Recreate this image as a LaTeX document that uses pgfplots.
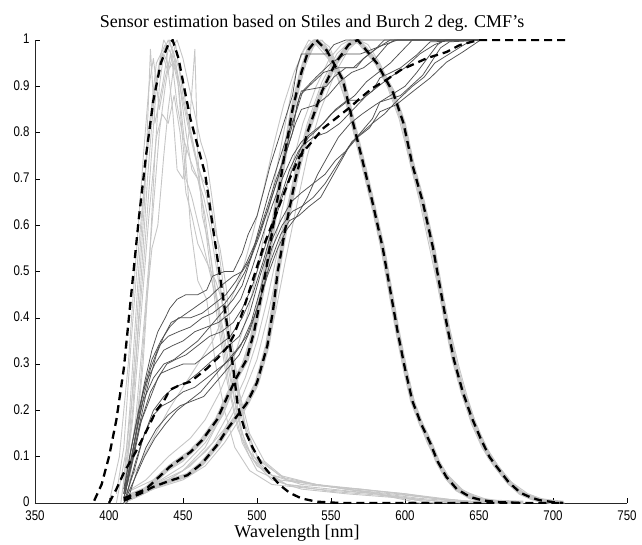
\documentclass[border=0pt]{standalone}
\usepackage{fontspec}
\setmainfont{Liberation Serif}
\newfontfamily\tickfont[FakeStretch=0.82]{Liberation Sans}
\usepackage{pgfplots}
\pgfplotsset{compat=1.18}
\definecolor{lgray}{RGB}{198,198,198}
\definecolor{dgray}{RGB}{80,80,80}
\begin{document}
\begin{tikzpicture}
\useasboundingbox (-35pt,-41pt) rectangle (607pt,503pt);
\begin{axis}[
  scale only axis, width=592pt, height=463pt,
  at={(0,0)}, anchor=south west,
  xmin=350, xmax=750, ymin=0, ymax=1,
  axis x line*=bottom, axis y line*=left,
  xtick={350,400,450,500,550,600,650,700,750},
  ytick={0,0.1,0.2,0.3,0.4,0.5,0.6,0.7,0.8,0.9,1},
  yticklabels={0,0.1,0.2,0.3,0.4,0.5,0.6,0.7,0.8,0.9,1},
  xticklabels={350,400,450,500,550,600,650,700,750},
  tick align=inside, major tick length=5pt,
  tick style={black, line width=0.5pt},
  axis line style={black!85, line width=0.6pt},
  ticklabel style={font=\tickfont\fontsize{14}{14}\selectfont},
  xticklabel style={yshift=-4pt},
  yticklabel style={xshift=-2pt, yshift=1pt},
  /pgf/number format/assume math mode=true,
  lg/.style={lgray, line width=0.9pt, line join=round},
  band/.style={lgray, line width=4.5pt, line join=round},
  dg/.style={dgray, line width=0.75pt, line join=round},
  dsh/.style={black, line width=2.3pt, dash pattern=on 8pt off 5pt},
]
% ---- gray bands under M and L
\addplot[band] coordinates {(410,0.01) (425,0.03) (441,0.078) (455,0.11) (463,0.136) (473,0.18) (480,0.23) (486,0.27) (493,0.31) (498,0.37) (503,0.45) (507,0.52) (512,0.62) (518,0.74) (524,0.85) (530,0.93) (535,0.98) (540,1.0) (547,0.978) (558,0.914) (565,0.82) (572,0.73) (578,0.65) (585,0.55) (590,0.46) (595,0.37) (600,0.29) (605,0.22) (611,0.17) (617,0.13) (622,0.09) (628,0.056) (635,0.03) (644,0.013) (652,0.006) (662,0.002) (680,0)};
\addplot[band] coordinates {(410,0.005) (421,0.02) (430,0.035) (441,0.048) (453,0.06) (463,0.086) (473,0.125) (480,0.16) (487,0.19) (493,0.215) (500,0.26) (507,0.34) (511,0.42) (514,0.5) (519,0.59) (526,0.7) (534,0.8) (544,0.89) (553,0.95) (562,0.99) (568,1.0) (572,0.985) (581,0.95) (592,0.886) (599,0.82) (605,0.73) (612,0.65) (619,0.55) (624,0.46) (628,0.39) (633,0.31) (639,0.24) (645,0.185) (651,0.14) (657,0.1) (662,0.078) (670,0.045) (678,0.022) (685,0.012) (691,0.006) (700,0.002) (707,0)};
% ---- light gray: S estimates
\addplot[lg] coordinates {(405,0) (412,0.12) (418,0.3) (423,0.5) (428,0.72) (432,0.9) (436,0.97) (440,0.93) (445,0.99) (450,0.88) (455,0.8) (460,0.73) (466,0.66) (472,0.55) (478,0.4) (484,0.26) (490,0.15) (498,0.09) (510,0.05) (530,0.03) (560,0.02) (600,0.01) (640,0)};
\addplot[lg] coordinates {(408,0) (414,0.15) (419,0.4) (424,0.65) (428,0.98) (431,0.82) (436,0.9) (441,1.0) (446,0.93) (452,0.7) (456,0.66) (462,0.58) (468,0.5) (474,0.42) (480,0.3) (486,0.2) (493,0.12) (505,0.07) (520,0.04) (550,0.025) (590,0.015) (620,0)};
\addplot[lg] coordinates {(410,0.02) (416,0.2) (421,0.45) (426,0.7) (431,0.9) (437,1.0) (442,0.97) (447,0.9) (451,0.78) (455,0.6) (460,0.48) (466,0.44) (472,0.3) (478,0.2) (485,0.12) (495,0.07) (510,0.04) (540,0.03) (580,0.02) (610,0)};
\addplot[lg] coordinates {(410,0.05) (414,0.2) (420,0.5) (426,0.78) (432,0.95) (438,0.99) (443,0.85) (446,0.72) (450,0.7) (454,0.8) (458,0.98) (460,0.75) (463,0.62) (468,0.55) (472,0.46) (478,0.36) (484,0.24) (490,0.14) (500,0.08) (515,0.05) (550,0.035) (600,0.02) (640,0)};
\addplot[lg] coordinates {(405,0.02) (410,0.12) (415,0.35) (420,0.55) (425,0.73) (430,0.88) (435,0.96) (440,1.0) (444,0.97) (448,0.9) (453,0.82) (458,0.75) (463,0.7) (467,0.68) (471,0.6) (475,0.55) (479,0.47) (483,0.35) (488,0.24) (495,0.15) (505,0.09) (520,0.05) (560,0.03) (610,0.01) (650,0)};
\addplot[lg] coordinates {(410,0.03) (416,0.18) (422,0.42) (427,0.62) (432,0.79) (436,0.84) (440,0.82) (444,0.88) (448,0.8) (452,0.67) (456,0.62) (460,0.56) (466,0.52) (472,0.48) (476,0.44) (480,0.38) (486,0.27) (492,0.17) (500,0.1) (515,0.06) (540,0.04) (580,0.02) (620,0)};
\addplot[lg] coordinates {(410,0.02) (417,0.1) (423,0.3) (427,0.5) (431,0.75) (434,0.9) (437,0.97) (441,0.94) (445,0.96) (449,0.92) (453,0.84) (458,0.76) (463,0.65) (468,0.52) (474,0.38) (480,0.26) (487,0.16) (495,0.1) (510,0.06) (530,0.04) (570,0.03) (620,0.01) (660,0)};
\addplot[lg] coordinates {(410,0.0) (418,0.18) (424,0.4) (429,0.6) (434,0.8) (438,0.9) (442,0.98) (446,1.0) (450,0.96) (454,0.9) (458,0.84) (462,0.78) (466,0.74) (470,0.65) (474,0.55) (478,0.45) (482,0.35) (487,0.24) (493,0.15) (502,0.09) (520,0.05) (560,0.03) (620,0.01) (660,0)};
\addplot[lg] coordinates {(412,0.0) (417,0.12) (421,0.25) (425,0.42) (429,0.55) (433,0.6) (437,0.75) (440,0.85) (444,0.95) (448,0.9) (452,0.8) (456,0.72) (460,0.7) (464,0.66) (468,0.6) (473,0.5) (478,0.4) (483,0.3) (490,0.18) (498,0.1) (510,0.06) (540,0.04) (600,0.02) (650,0)};
\addplot[lg] coordinates {(400,0.0) (407,0.1) (413,0.3) (418,0.52) (423,0.74) (427,0.9) (430,0.96) (434,0.85) (438,0.92) (442,0.97) (446,0.86) (450,0.79) (455,0.74) (460,0.7) (465,0.62) (470,0.5) (476,0.36) (482,0.24) (490,0.13) (500,0.07) (520,0.04) (580,0.02) (630,0)};
% ---- light gray: M estimates
\addplot[lg] coordinates {(410,0.02) (425,0.05) (440,0.1) (455,0.14) (465,0.18) (475,0.24) (485,0.32) (493,0.4) (500,0.5) (506,0.6) (512,0.7) (518,0.8) (524,0.9) (530,0.97) (535,1.0) (540,0.99) (548,0.96) (556,0.91) (563,0.83) (570,0.74) (577,0.65) (584,0.55) (590,0.45) (596,0.35) (602,0.26) (608,0.19) (615,0.13) (622,0.085) (630,0.05) (640,0.02) (655,0.005) (670,0)};
\addplot[lg] coordinates {(410,0.01) (430,0.03) (450,0.07) (465,0.12) (478,0.2) (488,0.28) (496,0.36) (502,0.45) (508,0.55) (514,0.66) (520,0.77) (527,0.88) (533,0.95) (539,0.99) (544,1.0) (550,0.97) (558,0.91) (566,0.82) (573,0.72) (580,0.62) (586,0.52) (592,0.42) (598,0.33) (604,0.24) (610,0.18) (617,0.12) (625,0.07) (635,0.035) (648,0.012) (665,0)};
\addplot[lg] coordinates {(410,0.03) (420,0.08) (430,0.14) (440,0.2) (450,0.25) (460,0.3) (470,0.35) (480,0.42) (490,0.5) (497,0.58) (504,0.67) (511,0.77) (518,0.86) (525,0.93) (532,0.98) (538,1.0) (545,0.98) (553,0.93) (561,0.86) (568,0.77) (575,0.68) (582,0.58) (588,0.48) (594,0.39) (600,0.3) (606,0.22) (613,0.15) (620,0.1) (628,0.06) (638,0.03) (650,0.01) (665,0)};
\addplot[lg] coordinates {(410,0.0) (430,0.04) (450,0.08) (465,0.13) (477,0.19) (487,0.27) (495,0.35) (502,0.46) (508,0.57) (514,0.68) (520,0.78) (526,0.87) (532,0.94) (538,0.985) (543,1.0) (549,0.985) (556,0.93) (563,0.85) (570,0.76) (577,0.67) (583,0.57) (589,0.47) (595,0.38) (601,0.29) (607,0.21) (614,0.15) (621,0.1) (629,0.06) (640,0.025) (655,0.008) (670,0)};
% ---- light gray: L estimates
\addplot[lg] coordinates {(410,0.01) (430,0.04) (450,0.07) (465,0.11) (478,0.16) (490,0.23) (500,0.31) (507,0.4) (513,0.49) (519,0.58) (526,0.68) (534,0.79) (543,0.88) (552,0.94) (560,0.98) (566,1.0) (572,0.98) (580,0.95) (590,0.89) (597,0.83) (604,0.75) (611,0.66) (617,0.57) (623,0.48) (628,0.4) (634,0.31) (640,0.24) (646,0.18) (653,0.13) (660,0.09) (668,0.055) (678,0.025) (690,0.008) (705,0)};
\addplot[lg] coordinates {(410,0.02) (430,0.05) (450,0.09) (465,0.14) (478,0.21) (488,0.28) (497,0.36) (504,0.45) (510,0.54) (516,0.62) (523,0.72) (531,0.82) (540,0.9) (549,0.96) (557,0.99) (563,1.0) (570,0.99) (578,0.96) (588,0.9) (596,0.83) (603,0.74) (610,0.65) (616,0.56) (622,0.47) (627,0.39) (633,0.3) (639,0.23) (645,0.17) (652,0.12) (660,0.08) (670,0.04) (682,0.015) (695,0.004) (705,0)};
\addplot[lg] coordinates {(410,0.0) (430,0.03) (450,0.05) (465,0.08) (478,0.13) (490,0.19) (500,0.25) (507,0.33) (513,0.42) (519,0.52) (526,0.63) (534,0.75) (543,0.85) (553,0.93) (562,0.98) (569,1.0) (575,0.99) (583,0.95) (593,0.88) (600,0.81) (607,0.72) (613,0.63) (620,0.54) (625,0.46) (630,0.38) (636,0.3) (642,0.23) (648,0.17) (655,0.12) (663,0.08) (672,0.045) (683,0.02) (695,0.006) (708,0)};
\addplot[lg] coordinates {(410,0.0) (435,0.04) (455,0.08) (470,0.13) (482,0.2) (492,0.27) (500,0.35) (507,0.44) (513,0.53) (519,0.62) (526,0.72) (534,0.82) (544,0.91) (554,0.97) (562,0.995) (567,1.0) (574,0.985) (582,0.95) (591,0.89) (598,0.82) (605,0.74) (612,0.65) (618,0.56) (624,0.47) (629,0.39) (635,0.3) (641,0.23) (647,0.17) (654,0.12) (662,0.08) (671,0.045) (682,0.018) (694,0.005) (706,0)};
% ---- dark gray step curves
\addplot[dg] coordinates {(410,0.02) (414,0.1) (419,0.18) (424,0.26) (429,0.33) (433,0.37) (438,0.4) (441,0.42) (446,0.44) (452,0.45) (460,0.45) (466,0.46) (470,0.49) (478,0.5) (484,0.5) (490,0.54) (494,0.58) (500,0.62) (505,0.68) (509,0.73) (514,0.78) (519,0.83) (524,0.88) (527,0.94) (530,0.97) (547,0.97) (552,0.99) (560,1.0) (655,1.0)};
\addplot[dg] coordinates {(410,0.01) (415,0.08) (420,0.16) (426,0.25) (432,0.32) (437,0.36) (442,0.39) (448,0.4) (457,0.42) (468,0.445) (476,0.47) (484,0.49) (490,0.5) (496,0.53) (502,0.58) (507,0.63) (512,0.68) (518,0.74) (524,0.8) (527,0.86) (530,0.89) (547,0.9) (552,0.92) (560,0.94) (567,0.94) (572,0.96) (580,0.98) (590,1.0) (655,1.0)};
\addplot[dg] coordinates {(411,0.02) (416,0.1) (421,0.17) (427,0.22) (433,0.27) (439,0.3) (445,0.31) (452,0.32) (460,0.34) (468,0.36) (476,0.37) (484,0.39) (490,0.42) (497,0.47) (504,0.54) (510,0.6) (516,0.66) (522,0.72) (528,0.76) (535,0.79) (542,0.81) (550,0.84) (558,0.86) (566,0.88) (574,0.91) (582,0.93) (590,0.95) (599,0.98) (605,1.0) (655,1.0)};
\addplot[dg] coordinates {(411,0.01) (417,0.07) (423,0.14) (430,0.2) (437,0.23) (444,0.25) (452,0.26) (460,0.28) (467,0.3) (474,0.32) (481,0.34) (488,0.36) (495,0.41) (502,0.49) (509,0.56) (516,0.61) (523,0.65) (530,0.67) (538,0.69) (546,0.71) (553,0.74) (560,0.76) (568,0.79) (576,0.81) (583,0.845) (594,0.86) (605,0.888) (617,0.918) (628,0.952) (639,0.974) (651,1.0) (655,1.0)};
\addplot[dg] coordinates {(410,0.03) (415,0.12) (420,0.2) (425,0.26) (431,0.3) (437,0.33) (443,0.34) (450,0.35) (458,0.37) (466,0.38) (474,0.39) (482,0.41) (489,0.44) (496,0.5) (503,0.57) (510,0.64) (517,0.7) (524,0.75) (530,0.78) (537,0.8) (545,0.82) (553,0.85) (561,0.87) (570,0.87) (578,0.89) (583,0.918) (597,0.94) (608,0.968) (617,0.996) (655,1.0)};
\addplot[dg] coordinates {(412,0.02) (418,0.09) (424,0.15) (430,0.19) (436,0.21) (442,0.22) (450,0.24) (458,0.25) (466,0.27) (474,0.29) (482,0.31) (489,0.34) (496,0.39) (503,0.47) (510,0.55) (517,0.6) (524,0.63) (530,0.64) (538,0.66) (546,0.69) (554,0.73) (562,0.77) (570,0.8) (578,0.83) (583,0.866) (597,0.88) (612,0.924) (624,0.983) (630,0.996) (655,1.0)};
\addplot[dg] coordinates {(410,0.02) (416,0.11) (422,0.21) (428,0.29) (434,0.34) (440,0.36) (447,0.37) (455,0.38) (463,0.4) (470,0.41) (478,0.43) (485,0.46) (492,0.5) (499,0.56) (506,0.63) (513,0.7) (520,0.76) (526,0.82) (530,0.85) (540,0.86) (548,0.88) (556,0.91) (564,0.93) (572,0.94) (580,0.96) (588,0.99) (593,1.0) (655,1.0)};
\addplot[dg] coordinates {(412,0.0) (418,0.06) (425,0.12) (432,0.16) (440,0.19) (448,0.21) (456,0.22) (464,0.23) (472,0.26) (480,0.29) (488,0.32) (495,0.37) (502,0.44) (509,0.52) (516,0.58) (522,0.61) (528,0.62) (535,0.64) (543,0.66) (550,0.7) (557,0.74) (564,0.78) (571,0.8) (578,0.82) (586,0.84) (595,0.87) (605,0.9) (613,0.92) (620,0.95) (630,0.97) (640,0.99) (646,1.0) (655,1.0)};
\addplot[dg] coordinates {(410,0.01) (416,0.09) (422,0.18) (428,0.24) (435,0.28) (442,0.29) (450,0.3) (458,0.3) (466,0.32) (474,0.34) (482,0.36) (490,0.4) (497,0.45) (504,0.52) (511,0.6) (518,0.67) (525,0.73) (530,0.77) (538,0.79) (547,0.8) (556,0.82) (565,0.85) (574,0.88) (582,0.9) (590,0.92) (600,0.94) (610,0.97) (620,0.99) (628,1.0) (655,1.0)};
\addplot[dg] coordinates {(411,0.02) (417,0.13) (423,0.24) (429,0.31) (435,0.35) (441,0.38) (447,0.4) (455,0.4) (463,0.41) (471,0.43) (479,0.45) (486,0.48) (493,0.52) (500,0.57) (507,0.63) (514,0.7) (520,0.77) (525,0.83) (529,0.88) (535,0.9) (545,0.93) (555,0.94) (565,0.94) (572,0.96) (580,0.98) (586,1.0) (655,1.0)};
\addplot[dg] coordinates {(410,0.0) (417,0.05) (424,0.1) (431,0.14) (438,0.17) (446,0.2) (454,0.22) (462,0.24) (470,0.27) (478,0.3) (486,0.33) (493,0.36) (500,0.42) (507,0.49) (514,0.55) (520,0.59) (527,0.62) (534,0.66) (541,0.71) (548,0.75) (555,0.79) (563,0.82) (571,0.84) (580,0.86) (590,0.88) (600,0.9) (608,0.93) (615,0.96) (622,0.99) (627,1.0) (655,1.0)};
\addplot[dg] coordinates {(411,0.03) (417,0.13) (423,0.22) (430,0.27) (437,0.3) (444,0.31) (452,0.33) (460,0.35) (468,0.38) (476,0.41) (484,0.44) (490,0.47) (496,0.53) (502,0.6) (508,0.67) (514,0.73) (520,0.79) (526,0.84) (531,0.89) (540,0.92) (550,0.95) (560,0.97) (570,0.97) (578,0.98) (586,0.99) (595,1.0) (655,1.0)};
% ---- dashed reference curves
\addplot[dsh] coordinates {(390,0.005) (395,0.04) (400,0.1) (405,0.18) (410,0.29) (415,0.45) (420,0.61) (425,0.75) (430,0.87) (435,0.95) (440,0.99) (443,1.0) (447,0.96) (450,0.91) (455,0.83) (460,0.77) (465,0.71) (470,0.6) (475,0.49) (480,0.38) (484,0.29) (487,0.21) (492,0.155) (497,0.12) (503,0.085) (509,0.062) (515,0.04) (522,0.022) (530,0.01) (540,0.003) (550,0.001) (560,0) (705,0)};
\addplot[dsh] coordinates {(400,0) (405,0.03) (410,0.065) (418,0.11) (426,0.16) (432,0.2) (437,0.22) (441,0.244) (448,0.255) (455,0.262) (466,0.29) (474,0.315) (480,0.337) (484,0.36) (490,0.41) (495,0.46) (500,0.51) (505,0.56) (510,0.6) (516,0.65) (522,0.7) (529,0.75) (537,0.78) (545,0.81) (555,0.835) (563,0.855) (570,0.875) (578,0.896) (588,0.915) (597,0.935) (606,0.948) (615,0.961) (628,0.974) (637,0.989) (645,0.996) (650,1) (710,1)};
\addplot[dsh] coordinates {(410,0.01) (425,0.03) (441,0.078) (455,0.11) (463,0.136) (473,0.18) (480,0.23) (486,0.27) (493,0.31) (498,0.37) (503,0.45) (507,0.52) (512,0.62) (518,0.74) (524,0.85) (530,0.93) (535,0.98) (540,1.0) (547,0.978) (558,0.914) (565,0.82) (572,0.73) (578,0.65) (585,0.55) (590,0.46) (595,0.37) (600,0.29) (605,0.22) (611,0.17) (617,0.13) (622,0.09) (628,0.056) (635,0.03) (644,0.013) (652,0.006) (662,0.002) (680,0)};
\addplot[dsh] coordinates {(410,0.005) (421,0.02) (430,0.035) (441,0.048) (453,0.06) (463,0.086) (473,0.125) (480,0.16) (487,0.19) (493,0.215) (500,0.26) (507,0.34) (511,0.42) (514,0.5) (519,0.59) (526,0.7) (534,0.8) (544,0.89) (553,0.95) (562,0.99) (568,1.0) (572,0.985) (581,0.95) (592,0.886) (599,0.82) (605,0.73) (612,0.65) (619,0.55) (624,0.46) (628,0.39) (633,0.31) (639,0.24) (645,0.185) (651,0.14) (657,0.1) (662,0.078) (670,0.045) (678,0.022) (685,0.012) (691,0.006) (700,0.002) (707,0)};
\end{axis}
\node[anchor=base, font=\fontsize{18}{20}\selectfont] at (277pt,475pt) {Sensor estimation based on Stiles and Burch 2 deg. CMF’s};
\node[anchor=base, font=\fontsize{18}{20}\selectfont] at (262pt,-34pt) {Wavelength [nm]};
\end{tikzpicture}
\end{document}
